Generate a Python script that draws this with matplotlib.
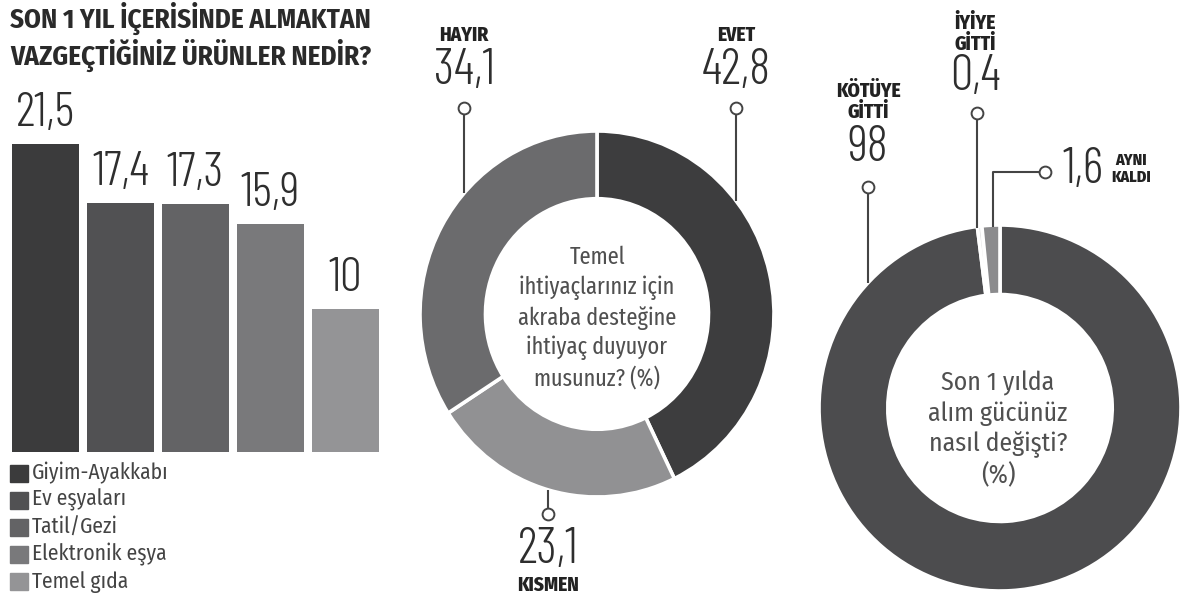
import numpy as np
import matplotlib
matplotlib.use('Agg')
import matplotlib.pyplot as plt
from matplotlib import font_manager as fm

# ---------------- data ----------------
bar_title = "SON 1 YIL İÇERİSİNDE ALMAKTAN\nVAZGEÇTİĞİNİZ ÜRÜNLER NEDİR?"
bar_categories = ['Giyim-Ayakkabı', 'Ev eşyaları', 'Tatil/Gezi', 'Elektronik eşya', 'Temel gıda']
bar_values = [21.5, 17.4, 17.3, 15.9, 10]
bar_value_labels = ['21,5', '17,4', '17,3', '15,9', '10']
bar_colors = ['#3b3b3c', '#515153', '#636365', '#79797b', '#949496']

d1_question = "Temel\nihtiyaçlarınız için\nakraba desteğine\nihtiyaç duyuyor\nmusunuz? (%)"
d1_names = ['EVET', 'KISMEN', 'HAYIR']
d1_values = [42.8, 23.1, 34.1]
d1_value_labels = ['42,8', '23,1', '34,1']
d1_colors = ['#3d3d3e', '#919193', '#6b6b6d']

d2_question = "Son 1 yılda\nalım gücünüz\nnasıl değişti?\n(%)"
d2_names = ['KÖTÜYE\nGİTTİ', 'İYİYE\nGİTTİ', 'AYNI\nKALDI']
d2_values = [98, 0.4, 1.6]
d2_value_labels = ['98', '0,4', '1,6']
d2_colors = ['#4c4c4e', '#dedede', '#8b8b8d']

# ---------------- fonts ----------------
names = sorted({f.name for f in fm.fontManager.ttflist})
def pick(cands, default='DejaVu Sans'):
    for c in cands:
        if c in names:
            return c
    return default
NUM = pick(['Barlow Condensed', 'Fira Sans Extra Condensed', 'Roboto Condensed'])
TXT = pick(['Fira Sans Condensed', 'Barlow Semi Condensed', 'Roboto Condensed'])
TXT2 = pick(['Fira Sans Extra Condensed', 'Fira Sans Condensed', 'Roboto Condensed'])
BOLD = pick(['Fira Sans Condensed', 'Fira Sans Extra Condensed', 'Roboto Condensed'])

W, H = 1182, 601
fig = plt.figure(figsize=(W / 100, H / 100), dpi=100)
fig.patch.set_facecolor('white')

def px_rect(x0, y0, x1, y1):
    return [x0 / W, 1 - y1 / H, (x1 - x0) / W, (y1 - y0) / H]

# ---------------- bar chart ----------------
axb = fig.add_axes(px_rect(8, 144, 383, 452))
xs = np.arange(len(bar_values))
bars = axb.bar(xs, bar_values, width=0.9, color=bar_colors)
axb.set_xlim(-0.5, len(bar_values) - 0.5)
axb.set_ylim(0, max(bar_values))
axb.axis('off')
for b, lab in zip(bars, bar_value_labels):
    axb.annotate(lab, (b.get_x() + b.get_width() / 2, b.get_height()),
                 xytext=(0, 13), textcoords='offset points', ha='center', va='baseline',
                 fontsize=35, family=NUM, fontweight=300, color='#2e2e2e',
                 annotation_clip=False)

# ---------------- donuts ----------------
D1 = dict(cx=597, cy=314, rx=177, ry=183)
D2 = dict(cx=1000, cy=408, rx=181, ry=183)

def donut(D, vals, cols, width):
    ax = fig.add_axes(px_rect(D['cx'] - D['rx'], D['cy'] - D['ry'], D['cx'] + D['rx'], D['cy'] + D['ry']))
    ax.pie(vals, colors=cols, startangle=90, counterclock=False, radius=1,
           wedgeprops=dict(width=width, edgecolor='white', linewidth=2.6))
    ax.set_aspect('auto')
    ax.set_xlim(-1, 1)
    ax.set_ylim(-1, 1)
    ax.axis('off')
    return ax

donut(D1, d1_values, d1_colors, 0.37)
donut(D2, d2_values, d2_colors, 0.38)

# ---------------- overlay (text & leaders) ----------------
ov = fig.add_axes([0, 0, 1, 1], zorder=10)
ov.set_xlim(0, W)
ov.set_ylim(H, 0)
ov.axis('off')
ov.patch.set_alpha(0)

LC = '#444444'

def ring_y(D, x, top=True):
    t = (x - D['cx']) / D['rx']
    dy = D['ry'] * np.sqrt(max(0.0, 1 - t * t))
    return D['cy'] - dy if top else D['cy'] + dy

def marker(x, y):
    ov.plot([x], [y], marker='o', ms=8.5, mfc='white', mec=LC, mew=1.4, zorder=12)

def leader(pts):
    xx = [p[0] for p in pts]
    yy = [p[1] for p in pts]
    ov.plot(xx, yy, color=LC, lw=1.5, solid_capstyle='butt', zorder=11)

big = dict(family=NUM, fontweight=300, fontsize=36, color='#2e2e2e')
lab = dict(family=BOLD, fontweight=800, fontsize=14, color='#222222')

# title
ov.text(10, 37, bar_title, ha='left', va='center', family=BOLD, fontweight=700,
        fontsize=19.5, color='#2a2a2a', linespacing=1.12)

# legend
for i, (c, name) in enumerate(zip(bar_colors, bar_categories)):
    y = 473 + i * 27.2
    ov.add_patch(plt.Rectangle((10, y - 8.5), 18, 17, color=c))
    ov.text(32, y, name, ha='left', va='center', family=TXT, fontsize=15.5, color='#444444')

# donut 1 center question
ov.text(D1['cx'], 318, d1_question, ha='center', va='center', family=TXT2,
        fontsize=17.5, color='#505050', linespacing=1.32)
# donut 2 center question
ov.text(D2['cx'] - 2, 430, d2_question, ha='center', va='center', family=TXT,
        fontsize=18.5, color='#505050', linespacing=1.25)

# donut 1 labels
x = 736
leader([(x, 110), (x, ring_y(D1, x))])
marker(x, 108)
ov.text(x, 71, d1_value_labels[0], ha='center', va='center', **big)
ov.text(x, 35, d1_names[0], ha='center', va='center', **lab)
x = 464
leader([(x, 110), (x, ring_y(D1, x))])
marker(x, 108)
ov.text(x, 71, d1_value_labels[2], ha='center', va='center', **big)
ov.text(x, 35, d1_names[2], ha='center', va='center', **lab)
x = 548
leader([(x, ring_y(D1, x, top=False)), (x, 512)])
marker(x, 514)
ov.text(x, 550, d1_value_labels[1], ha='center', va='center', **big)
ov.text(x, 585, d1_names[1], ha='center', va='center', **lab)

# donut 2 labels
x = 868
leader([(x, 189), (x, ring_y(D2, x))])
marker(x, 187)
ov.text(x, 148, d2_value_labels[0], ha='center', va='center', **big)
ov.text(x, 102, d2_names[0], ha='center', va='center', linespacing=1.1, **lab)
x = 977
leader([(x, 115), (x, ring_y(D2, x) + 2)])
marker(x, 113)
ov.text(975, 77, d2_value_labels[1], ha='center', va='center', **big)
ov.text(975, 34, d2_names[1], ha='center', va='center', linespacing=1.1, **lab)
x = 993
leader([(x, ring_y(D2, x) + 2), (x, 172), (1043, 172)])
marker(1045, 172)
ov.text(1062, 170, d2_value_labels[2], ha='left', va='center', **big)
ov.text(1131, 169, d2_names[2], ha='center', va='center', linespacing=1.1,
        family=BOLD, fontweight=800, fontsize=11.5, color='#222222')

fig.savefig('out.png', dpi=100, facecolor='white')
